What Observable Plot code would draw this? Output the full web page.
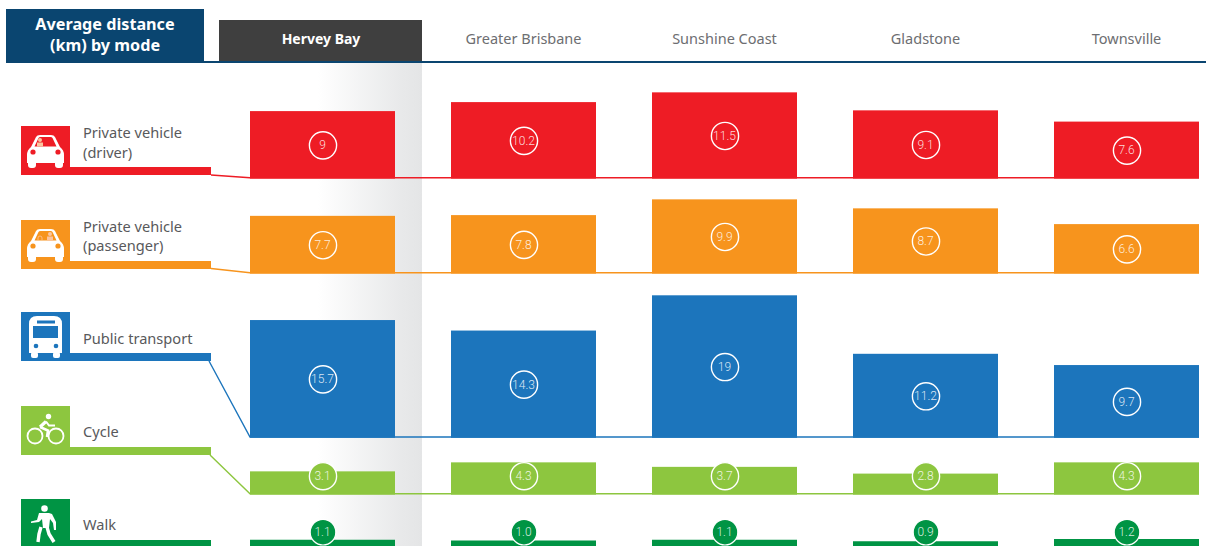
<!DOCTYPE html>
<html>
<head>
<meta charset="utf-8">
<script src="https://cdn.jsdelivr.net/npm/d3@7"></script>
<script src="https://cdn.jsdelivr.net/npm/@observablehq/plot@0.6"></script>
<style>
html,body{margin:0;padding:0;background:#fff;overflow:hidden}
svg{display:block}
</style>
</head>
<body>
<div id="chart"></div>
<script>
const cities = ["Hervey Bay", "Greater Brisbane", "Sunshine Coast", "Gladstone", "Townsville"];
const modes = ["Private vehicle (driver)", "Private vehicle (passenger)", "Public transport", "Cycle", "Walk"];
const modeColors = ["#ee1c25", "#f7941d", "#1c75bc", "#8dc63f", "#009444"];
const driverKm = [9, 10.2, 11.5, 9.1, 7.6];
const passengerKm = [7.7, 7.8, 9.9, 8.7, 6.6];
const publicKm = [15.7, 14.3, 19, 11.2, 9.7];
const cycleKm = [3.1, 4.3, 3.7, 2.8, 4.3];
const walkKm = [1.1, 1.0, 1.1, 0.9, 1.2];
const valueLabels = [
  ["9", "10.2", "11.5", "9.1", "7.6"],
  ["7.7", "7.8", "9.9", "8.7", "6.6"],
  ["15.7", "14.3", "19", "11.2", "9.7"],
  ["3.1", "4.3", "3.7", "2.8", "4.3"],
  ["1.1", "1.0", "1.1", "0.9", "1.2"]
];
const modeSeries = [driverKm, passengerKm, publicKm, cycleKm, walkKm];

// layout (pixels)
const W = 1206, H = 546, pxPerKm = 7.5;
const floorsPx = [178.6, 273.6, 437.8, 494.6, 548];
const badgeLiftPx = [null, null, null, 18.9, 16.3];
const tileTops = [126, 220, 312, 406, 499];
const legendLines = [["Private vehicle", "(driver)"], ["Private vehicle", "(passenger)"], ["Public transport"], ["Cycle"], ["Walk"]];
const legendBaselines = [[138, 158], [232, 251], [344], [437], [530]];
const connectorStarts = [[211, 175], [211, 268.5], [209, 361], [210, 455], [211, 548]];
const FONT = "'Noto Sans', sans-serif";
const NUMFONT = "'Roboto', sans-serif";

const yOf = px => (H - px) / pxPerKm;
const rows = modes.flatMap((mode, m) => cities.map((city, c) => {
  const floor = yOf(floorsPx[m]);
  const v = modeSeries[m][c];
  return {
    mode, city, value: v, label: valueLabels[m][c], floor, top: floor + v,
    badge: badgeLiftPx[m] == null ? floor + v / 2 : floor + badgeLiftPx[m] / pxPerKm,
    walk: m === 4
  };
}));

const NS = "http://www.w3.org/2000/svg";
const el = (parent, tag, attrs, text) => {
  const n = document.createElementNS(NS, tag);
  for (const k in attrs) n.setAttribute(k, attrs[k]);
  if (text != null) n.textContent = text;
  parent.appendChild(n);
  return n;
};
const group = () => document.createElementNS(NS, "g");

function backdrop() {
  const g = group();
  const defs = el(g, "defs", {});
  const lg = el(defs, "linearGradient", {id: "shade", x1: 0, x2: 1, y1: 0, y2: 0});
  el(lg, "stop", {offset: "0", "stop-color": "#ffffff"});
  el(lg, "stop", {offset: "0.8", "stop-color": "#e8e9ea"});
  el(lg, "stop", {offset: "1", "stop-color": "#e4e5e6"});
  el(g, "rect", {x: 318, y: 62, width: 104, height: H - 62, fill: "url(#shade)"});
  return g;
}

function header() {
  const g = group();
  el(g, "rect", {x: 204, y: 61, width: W - 204, height: 2, fill: "#0a4570"});
  el(g, "rect", {x: 6, y: 9, width: 198, height: 54, fill: "#0a4570"});
  el(g, "rect", {x: 219, y: 20, width: 203, height: 41, fill: "#3f3f3f"});
  const t = {"font-family": FONT, "font-size": 16.2, "font-weight": 700, fill: "#fff", "text-anchor": "middle"};
  el(g, "text", {...t, x: 105, y: 30}, "Average distance");
  el(g, "text", {...t, x: 105, y: 51}, "(km) by mode");
  return g;
}

function connectors(index, {x, y}) {
  const g = group();
  modes.forEach((mode, m) => {
    const fy = y(yOf(floorsPx[m])) - 0.8;
    const left = x(cities[0]);
    const right = x(cities[cities.length - 1]) + x.bandwidth();
    const [sx, sy] = connectorStarts[m];
    el(g, "path", {d: `M${sx},${sy}L${left},${fy}L${right},${fy}`, fill: "none", stroke: modeColors[m], "stroke-width": 1.4});
  });
  return g;
}

const icons = {
  car(g, c, who) {
    el(g, "path", {fill: "#fff", d: "M6,29q0,-5 4,-8l5,-10q1,-2 4,-2h11q3,0 4,2l5,10q4,3 4,8v8h-37z"});
    el(g, "rect", {x: 7, y: 34, width: 8, height: 8, rx: 3, fill: "#fff"});
    el(g, "rect", {x: 34, y: 34, width: 8, height: 8, rx: 3, fill: "#fff"});
    el(g, "path", {fill: c, d: "M13.5,20.5l4,-8.5q.5,-1 2,-1h10q1.500,0 2,1l4,8.500z"});
    el(g, "circle", {cx: 12, cy: 26, r: 2.6, fill: c});
    el(g, "circle", {cx: 37, cy: 26, r: 2.6, fill: c});
    const px = who === "driver" ? 19 : 29;
    el(g, "circle", {cx: px, cy: 14, r: 2, fill: "#fbc4a0"});
    el(g, "rect", {x: px - 3, y: 16.5, width: 6, height: 4, fill: "#fbc4a0"});
    if (who !== "driver") el(g, "path", {d: "M17,20v-2q0,-2 2,-2t2,2v2", fill: "none", stroke: "#fbc4a0", "stroke-width": 0.8});
  },
  bus(g, c) {
    el(g, "path", {fill: "#fff", d: "M8,12q0,-8 8,-8h17q8,0 8,8v29h-33z"});
    el(g, "rect", {x: 10, y: 40, width: 7, height: 6, rx: 2, fill: "#fff"});
    el(g, "rect", {x: 32, y: 40, width: 7, height: 6, rx: 2, fill: "#fff"});
    el(g, "rect", {x: 12, y: 14, width: 25, height: 12, fill: c});
    el(g, "rect", {x: 16, y: 8.5, width: 18, height: 3, fill: c});
    el(g, "circle", {cx: 15, cy: 34, r: 2.3, fill: c});
    el(g, "circle", {cx: 35, cy: 34, r: 2.3, fill: c});
  },
  cycle(g) {
    const w = {fill: "none", stroke: "#fff", "stroke-width": 1.8};
    el(g, "circle", {...w, cx: 14, cy: 30, r: 7.5});
    el(g, "circle", {...w, cx: 35, cy: 30, r: 7.5});
    el(g, "circle", {cx: 27.5, cy: 10.5, r: 2.7, fill: "#fff"});
    const s = {fill: "none", stroke: "#fff", "stroke-width": 3.2, "stroke-linejoin": "round"};
    el(g, "path", {...s, d: "M19,21L25,15.500"});
    el(g, "path", {fill: "none", stroke: "#fff", "stroke-width": 2, d: "M25,15.500L28,19.500L34,19.500"});
    el(g, "path", {fill: "none", stroke: "#fff", "stroke-width": 2.6, d: "M19,21L27,24.500L26,31"});
  },
  walk(g) {
    el(g, "circle", {cx: 23.5, cy: 9.5, r: 3.3, fill: "#fff"});
    el(g, "path", {fill: "#fff", d: "M18,14h10l3,1l4,8l0,8h-2l-1,-7l-3,-4l-1,9h-6l-1,-9l-3,3l-8,1v-1.500l6,-1.500z"});
    const s = {fill: "none", stroke: "#fff", "stroke-width": 3.4, "stroke-linejoin": "round"};
    el(g, "path", {...s, d: "M20,28L18,35L17,43"});
    el(g, "path", {...s, d: "M26,28L28,35L33,43"});
  }
};

function legend() {
  const g = group();
  modes.forEach((mode, m) => {
    const c = modeColors[m], top = tileTops[m];
    el(g, "rect", {x: 21, y: top, width: 49, height: 49, fill: c});
    el(g, "rect", {x: 70, y: top + 41, width: 141, height: 8, fill: c});
    const ig = el(g, "g", {transform: `translate(21,${top})`});
    if (m === 0) icons.car(ig, c, "driver");
    if (m === 1) icons.car(ig, c, "passenger");
    if (m === 2) icons.bus(ig, c);
    if (m === 3) icons.cycle(ig);
    if (m === 4) icons.walk(ig);
    legendLines[m].forEach((line, i) => {
      el(g, "text", {x: 83, y: legendBaselines[m][i], "text-anchor": "start", "font-family": FONT, "font-size": 14.6, fill: "#58595b"}, line);
    });
  });
  return g;
}

const chart = Plot.plot({
  width: W, height: H,
  margin: 0,
  style: {background: "#fff", fontFamily: FONT},
  x: {type: "band", domain: cities, range: [250, 1199], paddingInner: 56 / 201, paddingOuter: 0, round: false, axis: null},
  y: {domain: [0, H / pxPerKm], range: [H, 0], axis: null},
  color: {type: "ordinal", domain: modes, range: modeColors, legend: false},
  marks: [
    backdrop,
    header,
    connectors,
    Plot.barY(rows, {x: "city", y1: "floor", y2: "top", fill: "mode"}),
    Plot.dot(rows, {filter: d => !d.walk, x: "city", y: "badge", r: 13.6, fill: "mode", stroke: "#fff", strokeWidth: 1.4}),
    Plot.dot(rows, {filter: d => d.walk, x: "city", y: "badge", r: 12.8, fill: "mode", stroke: "#fff", strokeWidth: 1.2}),
    Plot.text(rows, {x: "city", y: "badge", dx: -0.5, text: "label", fill: "#fff", fillOpacity: 0.85, fontSize: 12, fontWeight: 300, fontFamily: NUMFONT, textAnchor: "middle"}),
    Plot.text(cities.slice(0, 1), {x: d => d, y: () => yOf(39), dx: -2, text: d => d, fontSize: 14, fontFamily: FONT, fill: "#ffffff", fontWeight: 700, textAnchor: "middle"}),
    Plot.text(cities.slice(1), {x: d => d, y: () => yOf(39), dx: -0.5, text: d => d, fontSize: 14.5, fontFamily: FONT, fill: "#6d6e71", textAnchor: "middle"}),
    legend
  ]
});
document.getElementById("chart").appendChild(chart);
</script>
</body>
</html>
